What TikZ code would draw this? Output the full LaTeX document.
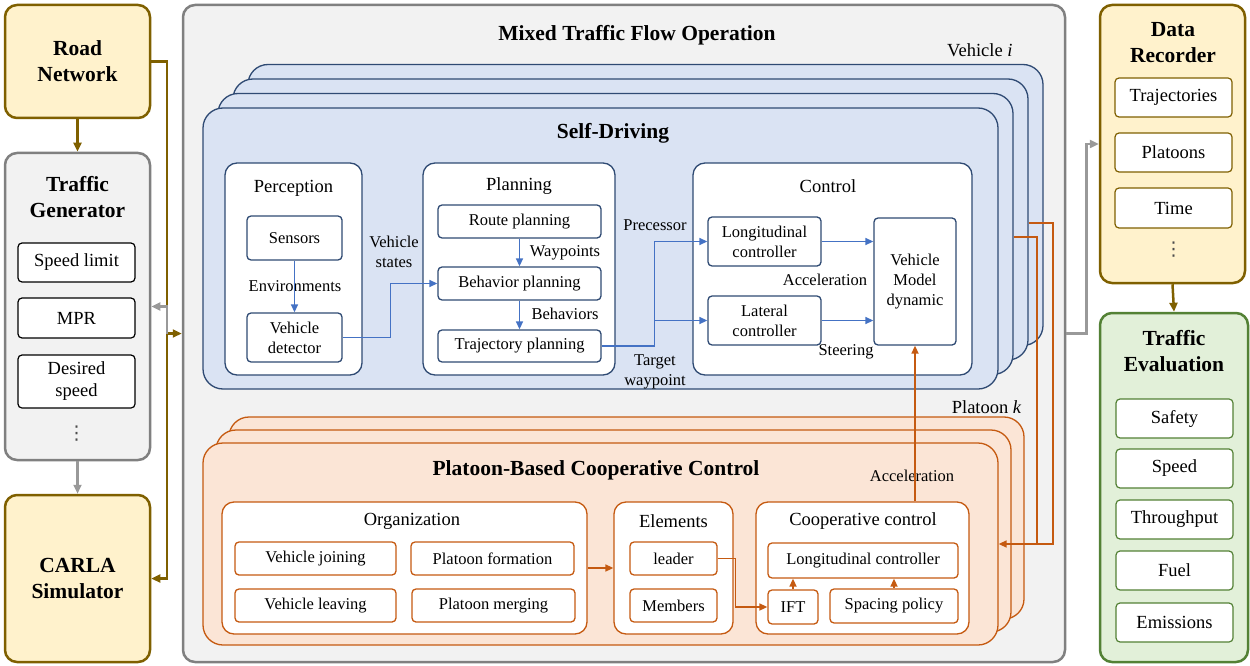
\documentclass[tikz,border=0pt]{standalone}
\usepackage{fontspec}
\setmainfont{Liberation Serif}
\newfontfamily\dotsym{DejaVu Sans}
\usetikzlibrary{arrows.meta}

\definecolor{opgray}{HTML}{F2F2F2}
\definecolor{opline}{HTML}{808080}
\definecolor{yfill}{HTML}{FFF2CC}
\definecolor{yline}{HTML}{7F6000}
\definecolor{gfill}{HTML}{E2F0D9}
\definecolor{gline}{HTML}{538135}
\definecolor{bfill}{HTML}{DAE3F3}
\definecolor{bline}{HTML}{2F4A73}
\definecolor{barrow}{HTML}{4472C4}
\definecolor{ofill}{HTML}{FBE5D6}
\definecolor{oline}{HTML}{C55A11}

\tikzset{
  bigfont/.style={font=\fontsize{21.5}{26}\selectfont\bfseries},
  midfont/.style={font=\fontsize{18.5}{22}\selectfont},
  smallfont/.style={font=\fontsize{16.5}{20}\selectfont},
  dotsfont/.style={font=\fontsize{19}{22}\dotsym, inner sep=0pt, text=black!70},
  sidebox/.style={draw, rectangle, rounded corners=12pt, line width=2.5pt, inner sep=0pt},
  sideitem/.style={draw, rectangle, rounded corners=4pt, line width=1.2pt, fill=white,
    inner sep=0pt, align=center, midfont, minimum width=117pt},
  layer/.style={draw=bline, fill=bfill, rectangle, rounded corners=20pt, line width=1.3pt,
    minimum width=795pt, minimum height=281pt},
  player/.style={draw=oline, fill=ofill, rectangle, rounded corners=20pt, line width=1.3pt,
    minimum width=795pt, minimum height=202pt},
  group/.style={draw, fill=white, rectangle, rounded corners=12pt, line width=1.3pt, inner sep=0pt},
  item/.style={draw, fill=white, rectangle, rounded corners=4pt, line width=1.3pt,
    inner sep=0pt, align=center, smallfont},
  note/.style={align=center, smallfont, inner sep=1pt},
  tip/.style={-{Triangle[length=8pt,width=7pt]}},
  bluearrow/.style={tip, draw=barrow, line width=1.4pt},
  orangearrow/.style={tip, draw=oline, line width=1.6pt},
  orangeline/.style={draw=oline, line width=1.6pt},
  brownarrow/.style={-{Triangle[length=9pt,width=8pt]}, draw=yline, line width=2.5pt},
  grayarrow/.style={-{Triangle[length=9pt,width=8pt]}, draw=opline!80, line width=2.5pt}
}

\begin{document}
\begin{tikzpicture}[x=1pt, y=-1pt]
  \useasboundingbox (0,0) rectangle (1250,666);

  % Left column
  \node (road) [sidebox, draw=yline, fill=yfill, minimum width=145pt, minimum height=113pt,
    align=center, bigfont] at (77.5,61.5) {Road\\Network};
  \node (tgen) [sidebox, draw=opline, fill=opgray, minimum width=145pt, minimum height=307pt] at (77.5,306.5) {};
  \node [bigfont, align=center] at (77.5,197) {Traffic\\Generator};
  \node (speed) [sideitem, minimum height=39pt] at (76.5,262.5) {Speed limit};
  \node (mpr) [sideitem, minimum height=40pt] at (76.5,318) {MPR};
  \node (desired) [sideitem, minimum height=53pt] at (76.5,381.5) {Desired\\speed};
  \node (tdots) [dotsfont] at (76.5,434) {⋮};
  \node (carla) [sidebox, draw=yline, fill=yfill, minimum width=145pt, minimum height=167pt,
    align=center, bigfont] at (77.5,578.5) {CARLA\\Simulator};

  % Right column
  \node (recorder) [sidebox, draw=yline, fill=yfill, minimum width=145pt, minimum height=278pt] at (1172.5,144) {};
  \node [bigfont, align=center] at (1173,43) {Data\\Recorder};
  \node (traj) [sideitem, draw=yline, minimum height=39pt] at (1173.5,97.5) {Trajectories};
  \node (platoons) [sideitem, draw=yline, minimum height=39pt] at (1173.5,152.5) {Platoons};
  \node (time) [sideitem, draw=yline, minimum height=40pt] at (1173.5,208) {Time};
  \node (rdots) [dotsfont] at (1173.5,250) {⋮};
  \node (eval) [sidebox, draw=gline, fill=gfill, minimum width=148pt, minimum height=349pt] at (1174,487.5) {};
  \node [bigfont, align=center] at (1174,351) {Traffic\\Evaluation};
  \node (safety) [sideitem, draw=gline, minimum height=39pt] at (1174.5,418.5) {Safety};
  \node (espeed) [sideitem, draw=gline, minimum height=39pt] at (1174.5,468.5) {Speed};
  \node (through) [sideitem, draw=gline, minimum height=39pt] at (1174.5,519.5) {Throughput};
  \node (fuel) [sideitem, draw=gline, minimum height=39pt] at (1174.5,570.5) {Fuel};
  \node (emis) [sideitem, draw=gline, minimum height=39pt] at (1174.5,622.5) {Emissions};

  % Mixed traffic flow operation
  \node (mixed) [sidebox, draw=opline, fill=opgray, minimum width=882pt, minimum height=657pt] at (624,333.5) {};
  \node [bigfont] at (637,35) {Mixed Traffic Flow Operation};
  \node [midfont, anchor=east] at (1016,50) {Vehicle \textit{i}};

  % Vehicle layers
  \node (vl4) [layer] at (645.5,205) {};
  \node (vl3) [layer] at (630.5,219.5) {};
  \node (vl2) [layer] at (615.5,234) {};
  \node (vl1) [layer] at (600.5,248.5) {};
  \node [bigfont] at (613,133) {Self-Driving};

  \node (perc) [group, draw=bline, minimum width=137pt, minimum height=212pt] at (293.5,269) {};
  \node [midfont] at (293.5,188) {Perception};
  \node (sensors) [item, draw=bline, minimum width=95pt, minimum height=44pt] at (294.5,238) {Sensors};
  \node (vdet) [item, draw=bline, minimum width=95pt, minimum height=49pt] at (294.5,337.5) {Vehicle\\detector};
  \node [note] at (295,286) {Environments};

  \node (plan) [group, draw=bline, minimum width=192pt, minimum height=212pt] at (519,269) {};
  \node [midfont] at (519,186) {Planning};
  \node (route) [item, draw=bline, minimum width=163pt, minimum height=33pt] at (519.5,221.5) {Route planning};
  \node (behav) [item, draw=bline, minimum width=163pt, minimum height=33pt] at (519.5,283.5) {Behavior planning};
  \node (trajp) [item, draw=bline, minimum width=163pt, minimum height=32pt] at (519.5,346) {Trajectory planning};
  \node [note] at (565,253) {Waypoints};
  \node [note] at (565,314) {Behaviors};
  \node [note] at (394,252) {Vehicle\\states};

  \node (ctrl) [group, draw=bline, minimum width=279pt, minimum height=212pt] at (832.5,269) {};
  \node [midfont] at (828,186) {Control};
  \node (longc) [item, draw=bline, minimum width=113pt, minimum height=49pt] at (764.5,241.5) {Longitudinal\\controller};
  \node (latc) [item, draw=bline, minimum width=113pt, minimum height=49pt] at (764.5,320.5) {Lateral\\controller};
  \node (vmd) [item, draw=bline, minimum width=82pt, minimum height=127pt] at (915,281.5) {Vehicle\\Model\\dynamic};
  \node [note] at (655,225) {Precessor};
  \node [note] at (655,372) {Target\\waypoint};
  \node [note] at (825,280) {Acceleration};
  \node [note] at (846,352) {Steering};

  % Platoon layers
  \node (pl3) [player] at (626.5,518) {};
  \node (pl2) [player] at (613.5,531) {};
  \node (pl1) [player] at (600.5,544) {};
  \node [midfont, anchor=east] at (1025,407) {Platoon \textit{k}};
  \node [bigfont] at (596,470) {Platoon-Based Cooperative Control};

  \node (org) [group, draw=oline, minimum width=365pt, minimum height=132pt] at (404.5,568) {};
  \node [midfont] at (412,521) {Organization};
  \node (vjoin) [item, draw=oline, minimum width=161pt, minimum height=33pt] at (315.5,558.5) {Vehicle joining};
  \node (pform) [item, draw=oline, minimum width=163pt, minimum height=33pt] at (492.5,558.5) {Platoon formation};
  \node (vleave) [item, draw=oline, minimum width=161pt, minimum height=33pt] at (315.5,605.5) {Vehicle leaving};
  \node (pmerge) [item, draw=oline, minimum width=163pt, minimum height=33pt] at (493.5,605.5) {Platoon merging};

  \node (elem) [group, draw=oline, minimum width=119pt, minimum height=132pt] at (673.5,568) {};
  \node [midfont] at (673.5,521) {Elements};
  \node (leader) [item, draw=oline, minimum width=87pt, minimum height=33pt] at (673.5,558.5) {leader};
  \node (members) [item, draw=oline, minimum width=87pt, minimum height=33pt] at (673.5,605.5) {Members};

  \node (coop) [group, draw=oline, minimum width=213pt, minimum height=132pt] at (862.5,568) {};
  \node [midfont] at (863,521) {Cooperative control};
  \node (plong) [item, draw=oline, minimum width=190pt, minimum height=35pt] at (863,560.5) {Longitudinal controller};
  \node (ift) [item, draw=oline, minimum width=50pt, minimum height=34pt] at (793,607) {IFT};
  \node (spacing) [item, draw=oline, minimum width=128pt, minimum height=34pt] at (894,606) {Spacing policy};
  \node [note] at (912,476) {Acceleration};

  % Arrows
  \coordinate (ltop) at (167,61.5);
  \coordinate (lmid) at (167,333.5);
  \coordinate (lbot) at (167,578.5);
  \draw[brownarrow] (road.south) -- (tgen.north);
  \draw[grayarrow] (tgen.south) -- (carla.north);
  \draw[brownarrow] (road.east) -- (ltop) -- (lbot) -- (carla.east);
  \draw[brownarrow] (lmid) -- (mixed.west);
  \draw[grayarrow] (lmid) |- (tgen.east);
  \draw[grayarrow] (mixed.east) -- ++(20,0) |- (recorder.west);
  \draw[brownarrow] (recorder.south) -- (eval.north);

  \draw[bluearrow] (sensors.south) -- (vdet.north);
  \draw[bluearrow] (vdet.east) -- ++(48,0) |- (behav.west);
  \draw[bluearrow] (route.south) -- (behav.north);
  \draw[bluearrow] (behav.south) -- (trajp.north);
  \draw[bluearrow] (trajp.east) -- ++(53,0) coordinate (tw) |- (longc.west);
  \draw[bluearrow] (tw |- latc.west) -- (latc.west);
  \draw[bluearrow] (longc.east) -- (vmd.west |- longc.east);
  \draw[bluearrow] (latc.east) -- (vmd.west |- latc.east);

  \draw[orangearrow] (vmd.south |- coop.north) -- (vmd.south);
  \draw[orangearrow] (org.east) -- (elem.west);
  \draw[orangearrow] (leader.east) -- ++(18,0) |- (ift.west);
  \draw[orangearrow] (ift.north) -- (ift.north |- plong.south);
  \draw[orangearrow] (spacing.north) -- (spacing.north |- plong.south);

  \coordinate (o1) at (1053,544);
  \coordinate (o2) at (1037,544);
  \draw[orangeline] ([yshift=-3.5pt]vl3.east) -| (o1) -- (o2);
  \draw[orangearrow] ([yshift=-3pt]vl2.east) -| (o2) -- (pl1.east |- o2);
\end{tikzpicture}
\end{document}
